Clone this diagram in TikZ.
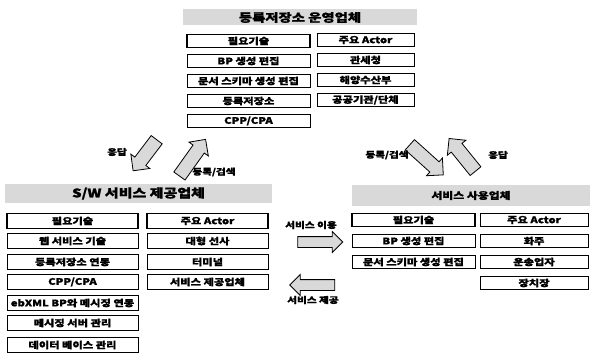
\documentclass[tikz,border=0pt]{standalone}
\usepackage{fontspec}
\newfontfamily\krfont[FakeStretch=1.25, BoldFeatures={FakeBold=1.2}]{Noto Sans CJK KR}
\usetikzlibrary{shapes.arrows}

\begin{document}
\begin{tikzpicture}[x=1pt,y=-1pt,
    every node/.style={font=\krfont\bfseries\fontsize{9}{10}\selectfont},
    lbl/.style={font=\krfont\bfseries\fontsize{8.5}{9}\selectfont},
    band/.style={fill=gray!30, inner sep=0pt},
    cell/.style={draw, line width=0.9pt, inner sep=0pt, minimum height=13},
    keycell/.style={cell, line width=1.7pt},
    fatarrow/.style 2 args={single arrow, draw, line width=0.8pt, fill=gray!30, inner sep=0pt,
        text height=#2pt, text depth=#2pt, single arrow head extend=5pt, minimum height=#1}]
\useasboundingbox (0,0) rectangle (591,358);

% registry operator
\node[band, minimum width=234, minimum height=16, font=\krfont\bfseries\fontsize{11.5}{13}\selectfont] (regHead) at (300,17.5) {등록저장소 운영업체};
\node[keycell, minimum width=123] (regT1) at (248.5,41) {필요기술};
\node[cell, minimum width=123] (regT2) at (248.5,61) {BP 생성 편집};
\node[cell, minimum width=123] (regT3) at (248.5,81) {문서 스키마 생성 편집};
\node[cell, minimum width=123] (regT4) at (248.5,101) {등록저장소};
\node[cell, minimum width=123] (regT5) at (248.5,121) {CPP/CPA};
\node[cell, minimum width=97] (regA1) at (365.5,40) {주요 Actor};
\node[cell, minimum width=97] (regA2) at (365.5,60) {관세청};
\node[cell, minimum width=97] (regA3) at (365.5,80) {해양수산부};
\node[cell, minimum width=97] (regA4) at (365.5,100) {공공기관/단체};

% s/w provider
\node[band, minimum width=267, minimum height=19, font=\krfont\bfseries\fontsize{12}{14}\selectfont] (swHead) at (138.5,193.5) {S/W 서비스 제공업체};
\node[keycell, minimum width=131, minimum height=15] (swT1) at (72.5,221) {필요기술};
\node[cell, minimum width=131, minimum height=15] (swT2) at (72.5,241) {웹 서비스 기술};
\node[cell, minimum width=131, minimum height=15] (swT3) at (72.5,262) {등록저장소 연동};
\node[cell, minimum width=131, minimum height=15] (swT4) at (72.5,282) {CPP/CPA};
\node[cell, minimum width=131, minimum height=15] (swT5) at (72.5,303) {ebXML BP와 메시징 연동};
\node[cell, minimum width=131, minimum height=15] (swT6) at (72.5,323) {메시징 서버 관리};
\node[cell, minimum width=131, minimum height=15] (swT7) at (72.5,345) {데이터 베이스 관리};
\node[keycell, minimum width=121, minimum height=15] (swA1) at (207.5,221) {주요 Actor};
\node[cell, minimum width=121, minimum height=15] (swA2) at (207.5,241) {대형 선사};
\node[cell, minimum width=121, minimum height=15] (swA3) at (207.5,262) {터미널};
\node[cell, minimum width=121, minimum height=15] (swA4) at (207.5,282) {서비스 제공업체};

% service user
\node[band, minimum width=238, minimum height=21, font=\krfont\bfseries\fontsize{9.5}{11}\selectfont] (useHead) at (471,195.5) {서비스 사용업체};
\node[keycell, minimum width=123] (useT1) at (413.5,220) {필요기술};
\node[cell, minimum width=123] (useT2) at (413.5,241) {BP 생성 편집};
\node[cell, minimum width=123] (useT3) at (413.5,262) {문서 스키마 생성 편집};
\node[cell, minimum width=108] (useA1) at (534,220) {주요 Actor};
\node[cell, minimum width=108] (useA2) at (534,241) {화주};
\node[cell, minimum width=108] (useA3) at (534,262) {운송업자};
\node[cell, minimum width=108] (useA4) at (534,283) {장치장};

% block arrows
\node[fatarrow={45}{5}] (useArr) at (317.5,242) {};
\node[fatarrow={45}{5}, rotate=180] (provArr) at (315,285) {};
\node[fatarrow={39}{6.5}, rotate=232.8] (resArrL) at (147,152.5) {};
\node[fatarrow={45}{6.5}, rotate=54.5] (regArrL) at (190.5,160.5) {};
\node[fatarrow={45}{6.5}, rotate=-42] (regArrR) at (424,157.5) {};
\node[fatarrow={42}{6.5}, rotate=129] (resArrR) at (464.5,157.5) {};

\node[lbl] (useLbl) at (311,225) {서비스 이용};
\node[lbl] (provLbl) at (313,300) {서비스 제공};
\node[lbl] (resLblL) at (117,152) {응답};
\node[lbl] (regLblL) at (214,172) {등록/검색};
\node[lbl] (regLblR) at (387,155) {등록/검색};
\node[lbl] (resLblR) at (498,155) {응답};
\end{tikzpicture}
\end{document}
